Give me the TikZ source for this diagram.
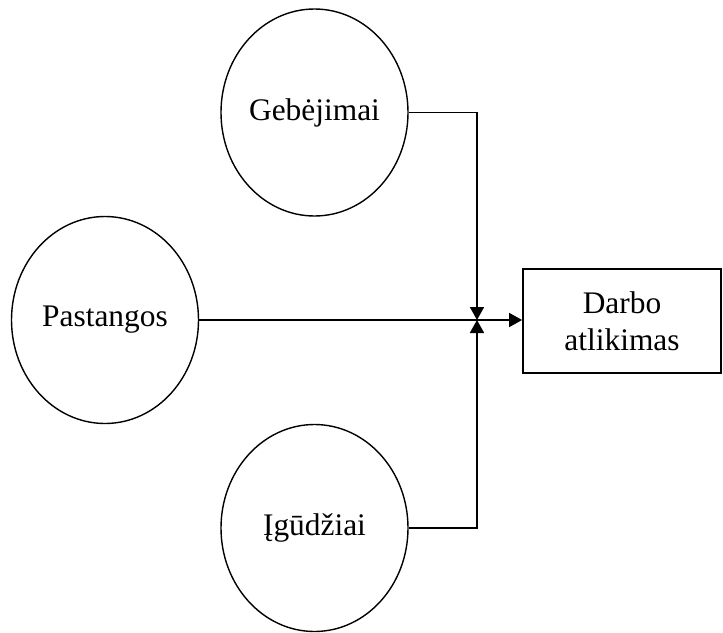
\documentclass[tikz,border=0pt]{standalone}
\usepackage{fontspec}
\setmainfont{Liberation Serif}
\usetikzlibrary{shapes.geometric,arrows.meta}

\tikzset{
  oval/.style={draw, line width=0.7pt, ellipse, inner sep=0pt,
    minimum width=93.5pt, minimum height=103.5pt},
  box/.style={draw, line width=0.9pt, rectangle, inner sep=0pt, align=center,
    minimum width=99pt, minimum height=52pt},
  link/.style={line width=0.9pt, -{Triangle[length=6.5pt,width=7pt]}}
}

\begin{document}
\begin{tikzpicture}[x=0.5pt,y=-0.5pt, font=\fontsize{15.7}{18.5}\selectfont]
  \useasboundingbox (0,0) rectangle (723,632);
  %% three inputs
  \node[oval] (geb) at (314.5,112.5) {Gebėjimai};
  \node[oval] (pas) at (105,320) {Pastangos};
  \node[oval] (igu) at (314.5,528) {Įgūdžiai};
  %% result
  \node[box] (darb) at (622,321) {Darbo\\atlikimas};
  \coordinate (junc) at (477,320);
  \draw[link] (geb.east) -| (junc);
  \draw[link] (igu.east) -| (junc);
  \draw[link] (pas.east) -- (pas.east -| darb.west);
\end{tikzpicture}
\end{document}
